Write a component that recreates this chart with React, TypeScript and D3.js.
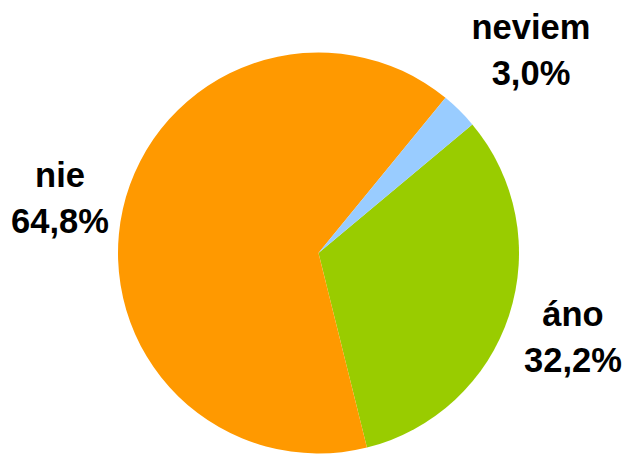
import React from "react";
import * as d3 from "d3";

const categories = ["áno", "nie", "neviem"];
const values = [32.2, 64.8, 3.0];
const labels = ["32,2%", "64,8%", "3,0%"];
const colors = ["#99CC00", "#FF9900", "#99CCFF"];

const W = 635;
const H = 455;
const cx = 318.5;
const cy = 253;
const R = 200.5;
const startDeg = 50.1;

// label anchor positions (center x, baseline of first line)
const labelPos: [number, number][] = [
  [573, 326],
  [60, 187],
  [531, 39],
];

export default function App() {
  const pie = d3
    .pie<number>()
    .sort(null)
    .value((d) => d)
    .startAngle((startDeg * Math.PI) / 180)
    .endAngle((startDeg * Math.PI) / 180 + 2 * Math.PI);
  const arcs = pie(values);
  const arc = d3.arc<d3.PieArcDatum<number>>().innerRadius(0).outerRadius(R);

  return (
    <svg
      width={W}
      height={H}
      style={{ position: "absolute", left: 0, top: 0 }}
      viewBox={`0 0 ${W} ${H}`}
    >
      <rect x={0} y={0} width={W} height={H} fill="#ffffff" />
      <g transform={`translate(${cx},${cy})`}>
        {arcs.map((a, i) => (
          <path key={categories[i]} d={arc(a) || ""} fill={colors[i]} />
        ))}
      </g>
      {categories.map((c, i) => (
        <text
          key={c}
          x={labelPos[i][0]}
          y={labelPos[i][1]}
          textAnchor="middle"
          fontFamily="'Liberation Sans', Arial, sans-serif"
          fontWeight="bold"
          fontSize={34.5}
          fill="#000"
        >
          <tspan x={labelPos[i][0]}>{c}</tspan>
          <tspan x={labelPos[i][0]} dy={46}>
            {labels[i]}
          </tspan>
        </text>
      ))}
    </svg>
  );
}
